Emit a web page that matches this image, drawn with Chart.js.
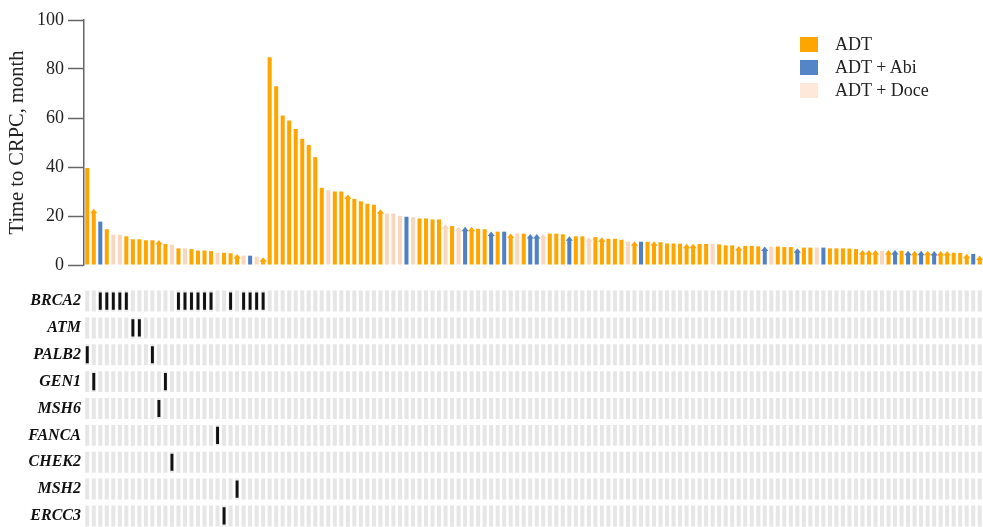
<!DOCTYPE html>
<html>
<head>
<meta charset="utf-8">
<script src="https://cdn.jsdelivr.net/npm/chart.js@4/dist/chart.umd.min.js"></script>
<style>
  html, body { margin: 0; padding: 0; background: #fff; overflow: hidden; }
  body { width: 983px; height: 527px; position: relative; }
  #bars { position: absolute; left: 0; top: 0; }
  #genes { position: absolute; left: 0; top: 275px; }
  .legend { position: absolute; left: 800px; top: 33px; font-family: "Liberation Serif", "Times New Roman", serif; font-size: 18px; color: #222; }
  .legend div { height: 23px; display: flex; align-items: center; }
  .legend span.box { width: 18px; height: 15px; display: inline-block; margin-right: 17px; }
</style>
</head>
<body>
<canvas id="bars" width="983" height="280"></canvas>
<canvas id="genes" width="983" height="267"></canvas>
<div class="legend" id="legend"></div>
<script>
// 患者ごとの CRPC までの期間（月）。左28人は HRR 遺伝子変異あり
const timeToCrpc = [
  39.6, 21.5, 17.7, 14.6, 12.4, 12.4, 11.7, 10.5, 10.5, 10.1,
  10.1, 8.8, 8.6, 8.3, 6.8, 6.8, 6.5, 5.9, 5.9, 5.7,
  5.0, 5.0, 4.8, 3.1, 3.8, 3.8, 3.4, 1.7,
  84.8, 73, 61, 59, 55.5, 51.5, 49, 44, 31.5, 30.5,
  30, 30, 27.3, 27, 26, 25, 24.6, 21.3, 21, 21,
  20, 19.7, 19.5, 19, 19, 18.6, 18.6, 15.2, 15.9, 14.2,
  14.2, 14.2, 14.8, 14.6, 12.2, 13.6, 13.6, 11.4, 12.9, 12.8,
  11.2, 11.2, 11.2, 12.8, 12.8, 12.5, 10.3, 11.7, 11.7, 9.9,
  11.4, 9.9, 10.7, 10.7, 10.3, 9.6, 8.3, 9.5, 9.5, 8.3,
  9.3, 8.8, 8.8, 8.7, 7.2, 7.2, 8.6, 8.6, 8.6, 8.4,
  8.0, 8.0, 6.3, 7.8, 7.8, 7.6, 6.1, 7.5, 7.5, 7.3,
  7.3, 5.4, 7.1, 7.1, 7.1, 7.1, 6.8, 6.8, 6.8, 6.7,
  6.5, 4.7, 4.7, 4.7, 5.7, 4.7, 4.7, 5.8, 4.4, 4.4,
  4.4, 4.4, 4.3, 4.3, 4.3, 5.0, 4.9, 3.2, 4.5, 2.4,
];

// 治療: A = ADT, B = ADT + Abi, D = ADT + Doce
const regimen = [
  "A","A","B","A","D","D","A","A","A","A",
  "A","A","A","D","A","D","A","A","A","A",
  "D","A","A","A","D","B","D","A",
  "A","A","A","A","A","A","A","A","A","D",
  "A","A","A","A","A","A","A","A","D","D",
  "D","B","D","A","A","A","A","D","A","D",
  "B","A","A","A","B","A","B","A","D","A",
  "B","B","D","A","A","A","B","A","A","D",
  "A","A","A","A","A","D","A","B","A","A",
  "A","A","A","A","A","A","A","A","D","A",
  "A","A","A","A","A","A","B","D","A","A",
  "A","B","A","A","D","B","A","A","A","A",
  "A","A","A","A","D","A","B","A","B","A",
  "B","A","B","A","A","A","A","A","B","A",
];

// 矢印（未到達）の患者インデックス
const ongoingIdx = [1, 11, 23, 27, 40, 45, 55, 57, 58, 59, 62, 65, 68, 69, 70,
  74, 77, 79, 84, 87, 92, 93, 100, 104, 109, 119, 120, 121, 123, 124, 126,
  127, 128, 129, 130, 131, 132, 135, 137];

const yTicks = [0, 20, 40, 60, 80, 100];

const genes = ["BRCA2", "ATM", "PALB2", "GEN1", "MSH6", "FANCA", "CHEK2", "MSH2", "ERCC3"];
const mutationIdx = [
  [2, 3, 4, 5, 6, 14, 15, 16, 17, 18, 19, 22, 24, 25, 26, 27],
  [7, 8],
  [0, 10],
  [1, 12],
  [11],
  [20],
  [13],
  [23],
  [21],
];

const regimenNames = { A: "ADT", B: "ADT + Abi", D: "ADT + Doce" };
const BAR_COLORS = { A: "#FFA500", B: "#4F80C3", D: "#F9D6BE" };
const LEGEND_COLORS = { A: "#FFA500", B: "#5485C6", D: "#FDE8DA" };
const SERIF = "'Liberation Serif', 'Times New Roman', serif";

const patients = timeToCrpc.map((_, i) => String(i + 1));

// 凡例（HTML）
const legendEl = document.getElementById("legend");
Object.keys(regimenNames).forEach((k) => {
  const row = document.createElement("div");
  row.innerHTML = `<span class="box" style="background:${LEGEND_COLORS[k]}"></span>${regimenNames[k]}`;
  legendEl.appendChild(row);
});

/** 矢印（継続中）を棒の先端に描くプラグイン */
const arrowPlugin = {
  id: "arrowHeads",
  afterDatasetsDraw(chart) {
    const meta = chart.getDatasetMeta(0);
    const ctx = chart.ctx;
    ctx.save();
    ongoingIdx.forEach((i) => {
      const el = meta.data[i];
      if (!el) return;
      ctx.fillStyle = BAR_COLORS[regimen[i]];
      ctx.beginPath();
      ctx.moveTo(el.x - 3.6, el.y + 1);
      ctx.lineTo(el.x, el.y - 3.5);
      ctx.lineTo(el.x + 3.6, el.y + 1);
      ctx.closePath();
      ctx.fill();
    });
    ctx.restore();
  },
};

const fixWidth = (scale) => { scale.width = 84; };

new Chart(document.getElementById("bars"), {
  type: "bar",
  data: {
    labels: patients,
    datasets: [{
      data: timeToCrpc,
      backgroundColor: regimen.map((r) => BAR_COLORS[r]),
      categoryPercentage: 1,
      barPercentage: 0.62,
    }],
  },
  options: {
    responsive: false,
    animation: false,
    layout: { padding: { top: 20, bottom: 15, left: 0, right: 0 } },
    plugins: { legend: { display: false }, tooltip: { enabled: false } },
    scales: {
      x: { display: false },
      y: {
        min: 0,
        max: 100,
        afterFit: fixWidth,
        afterBuildTicks: (scale) => { scale.ticks = yTicks.map((v) => ({ value: v })); },
        ticks: { color: "#222", font: { family: SERIF, size: 18 }, padding: 4 },
        grid: { drawOnChartArea: false, tickLength: 16, tickColor: "#666", tickWidth: 1.5 },
        border: { color: "#666", width: 1.5 },
        title: {
          display: true,
          text: "Time to CRPC, month",
          color: "#222",
          font: { family: SERIF, size: 20.5 },
          padding: { top: 5, bottom: 0 },
        },
      },
    },
  },
  plugins: [arrowPlugin],
});

// 変異マップ（灰色のセル＋黒の変異マーク）
const geneDatasets = [];
genes.forEach((g, gi) => {
  const hits = mutationIdx[gi];
  geneDatasets.push({
    data: patients.map((_, p) => (hits.includes(p) ? [gi - 0.32, gi + 0.32] : null)),
    backgroundColor: "#111",
    barPercentage: 0.45,
    categoryPercentage: 1,
    grouped: false,
    order: 0,
  });
  geneDatasets.push({
    data: patients.map(() => [gi - 0.39, gi + 0.39]),
    backgroundColor: "#e6e6e6",
    barPercentage: 0.62,
    categoryPercentage: 1,
    grouped: false,
    order: 1,
  });
});

new Chart(document.getElementById("genes"), {
  type: "bar",
  data: { labels: patients, datasets: geneDatasets },
  options: {
    responsive: false,
    animation: false,
    layout: { padding: { top: 11, bottom: 11, left: 0, right: 0 } },
    plugins: { legend: { display: false }, tooltip: { enabled: false } },
    scales: {
      x: { display: false },
      y: {
        reverse: true,
        min: -0.5,
        max: genes.length - 0.5,
        afterFit: fixWidth,
        afterBuildTicks: (scale) => { scale.ticks = genes.map((_, i) => ({ value: i })); },
        ticks: {
          color: "#111",
          padding: 3,
          font: { family: SERIF, size: 16, weight: "bold", style: "italic" },
          callback: (v) => genes[v],
        },
        grid: { display: false, drawTicks: false },
        border: { display: false },
      },
    },
  },
});
</script>
</body>
</html>
